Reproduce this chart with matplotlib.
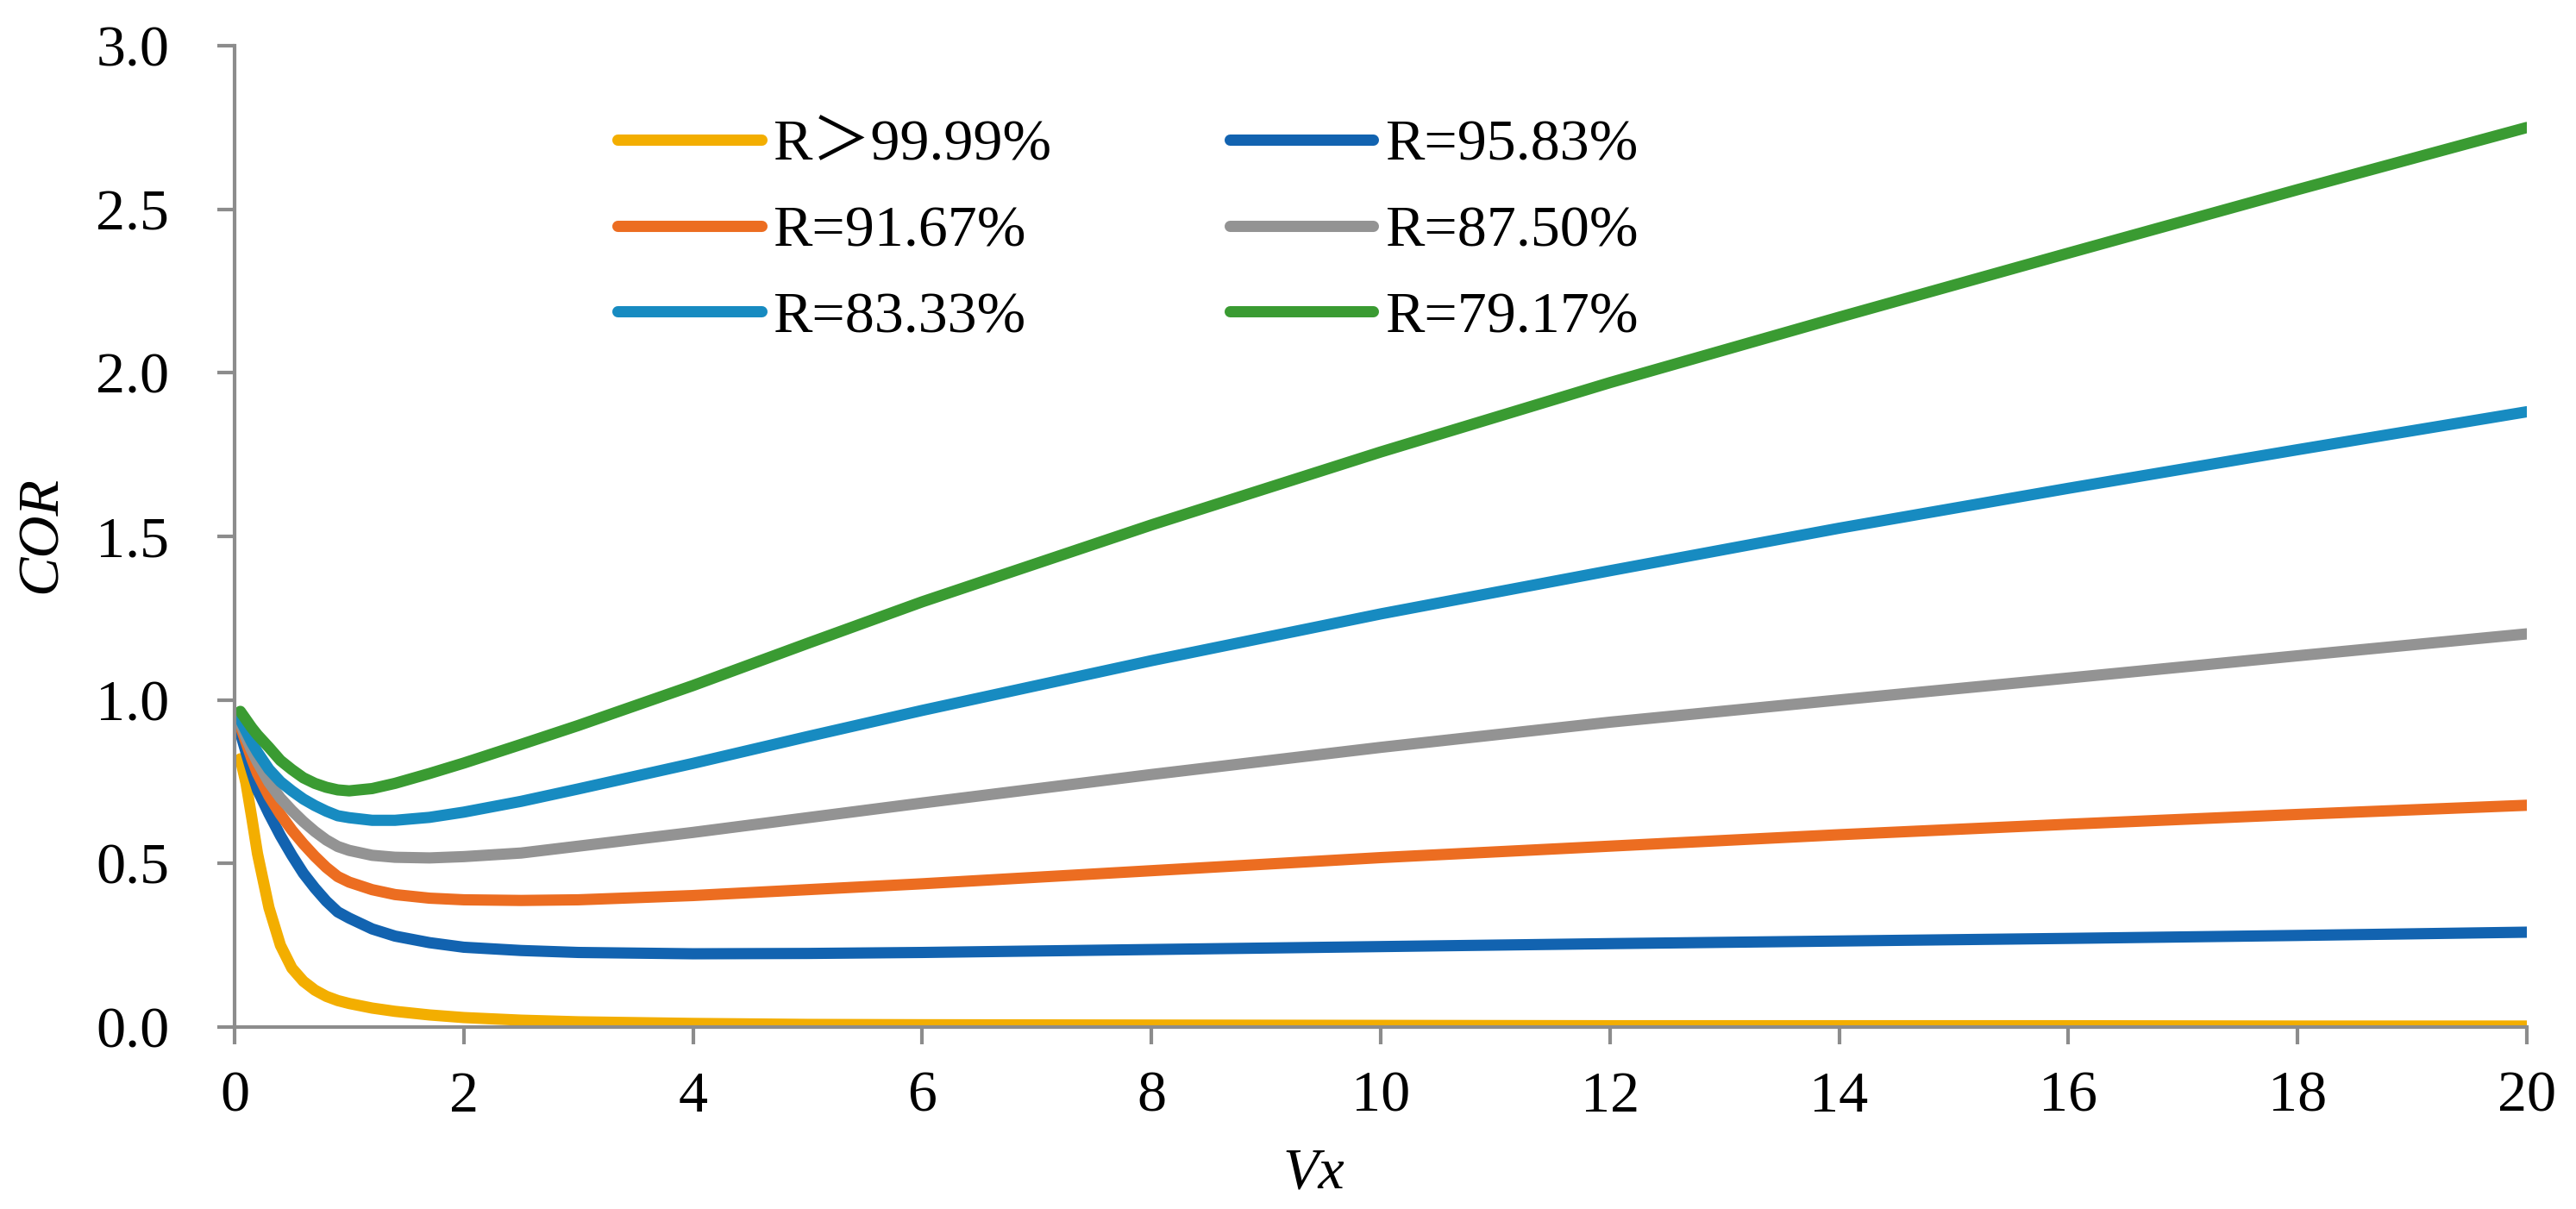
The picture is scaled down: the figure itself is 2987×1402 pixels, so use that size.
import matplotlib
matplotlib.use("Agg")
import matplotlib.pyplot as plt

plt.rcParams['font.family'] = ['Liberation Serif', 'Noto Sans CJK SC', 'DejaVu Sans']

# ---------------- data ----------------
vx = [0.05, 0.1, 0.15, 0.2, 0.3, 0.4, 0.5, 0.6, 0.7, 0.8, 0.9, 1.0, 1.2, 1.4, 1.7,
      2.0, 2.5, 3.0, 4, 5, 6, 8, 10, 12, 14, 16, 18, 20]

cor_9999 = [0.82, 0.745, 0.64, 0.53, 0.365, 0.25, 0.18, 0.14, 0.113, 0.094, 0.081, 0.072,
            0.058, 0.048, 0.037, 0.029, 0.021, 0.016, 0.011, 0.008, 0.007, 0.006, 0.005,
            0.004, 0.004, 0.004, 0.003, 0.003]
cor_9583 = [0.90, 0.84, 0.78, 0.725, 0.652, 0.585, 0.525, 0.47, 0.425, 0.385, 0.352, 0.333,
            0.30, 0.278, 0.258, 0.244, 0.234, 0.228, 0.224, 0.225, 0.228, 0.237, 0.246,
            0.255, 0.263, 0.271, 0.28, 0.29]
cor_9167 = [0.92, 0.87, 0.82, 0.775, 0.706, 0.65, 0.602, 0.56, 0.522, 0.488, 0.46, 0.443,
            0.42, 0.405, 0.394, 0.389, 0.387, 0.389, 0.402, 0.42, 0.438, 0.478, 0.518,
            0.553, 0.588, 0.62, 0.65, 0.678]
cor_8750 = [0.93, 0.885, 0.845, 0.81, 0.748, 0.70, 0.662, 0.628, 0.598, 0.572, 0.552, 0.54,
            0.525, 0.519, 0.517, 0.521, 0.532, 0.553, 0.595, 0.64, 0.685, 0.772, 0.855,
            0.932, 1.0, 1.067, 1.135, 1.202]
cor_8333 = [0.94, 0.905, 0.87, 0.84, 0.788, 0.75, 0.722, 0.697, 0.677, 0.66, 0.646, 0.64,
            0.632, 0.632, 0.641, 0.657, 0.69, 0.728, 0.806, 0.888, 0.968, 1.12, 1.263,
            1.395, 1.525, 1.647, 1.765, 1.881]
cor_7917 = [0.965, 0.94, 0.915, 0.893, 0.855, 0.815, 0.787, 0.762, 0.745, 0.733, 0.725, 0.722,
            0.729, 0.745, 0.775, 0.807, 0.864, 0.922, 1.044, 1.173, 1.30, 1.535, 1.758,
            1.97, 2.17, 2.366, 2.56, 2.75]

labels = ['R\uff1e99.99%', 'R=95.83%', 'R=91.67%', 'R=87.50%', 'R=83.33%', 'R=79.17%']
series = [cor_9999, cor_9583, cor_9167, cor_8750, cor_8333, cor_7917]
colors = ['#F3AE00', '#1263B0', '#EC6D21', '#939393', '#178BC1', '#3A9B32']

x_ticks = [0, 2, 4, 6, 8, 10, 12, 14, 16, 18, 20]
y_ticks = [0.0, 0.5, 1.0, 1.5, 2.0, 2.5, 3.0]

# ---------------- figure ----------------
W, H = 2987, 1402
fig = plt.figure(figsize=(W / 100, H / 100), dpi=100)
ax = fig.add_axes([272 / W, 1 - 1191 / H, (2930 - 272) / W, (1191 - 53) / H])

lines = {}
for lab, ys, col in zip(labels, series, colors):
    ln, = ax.plot(vx, ys, color=col, lw=9.4, solid_capstyle='round',
                  solid_joinstyle='round', label=lab)
    lines[lab] = ln

ax.set_xlim(0, 20)
ax.set_ylim(0, 3.0)
ax.set_xticks(x_ticks)
ax.set_yticks(y_ticks)
ax.set_yticklabels([f'{v:.1f}' for v in y_ticks])

for s in ['top', 'right']:
    ax.spines[s].set_visible(False)
for s in ['left', 'bottom']:
    ax.spines[s].set_color('#8C8C8C')
    ax.spines[s].set_linewidth(3)

FS = 49
ax.tick_params(axis='both', colors='#8C8C8C', width=3, length=14.5, direction='out',
               labelsize=FS, labelcolor='black')
ax.tick_params(axis='x', pad=22)
ax.tick_params(axis='y', pad=40)

ax.set_xlabel('Vx', fontsize=FS, style='italic')
ax.xaxis.set_label_coords((1523 - 272) / (2930 - 272), (1191 - 1361) / (1191 - 53))
ax.xaxis.label.set_va('center')
ax.set_ylabel('COR', fontsize=FS, style='italic')
ax.yaxis.set_label_coords((48 - 272) / (2930 - 272), (1191 - 620) / (1191 - 53))
ax.yaxis.label.set_va('center')

order = ['R\uff1e99.99%', 'R=91.67%', 'R=83.33%', 'R=95.83%', 'R=87.50%', 'R=79.17%']
leg = ax.legend([lines[k] for k in order], order, ncol=2, frameon=False,
                fontsize=FS, handlelength=2.45, handletextpad=0.2,
                columnspacing=3.03, labelspacing=0.56, borderpad=0, borderaxespad=0,
                loc='upper left', bbox_to_anchor=(716 / W, 1 - 138 / H),
                bbox_transform=fig.transFigure)

fig.savefig('out.png', dpi=100)
